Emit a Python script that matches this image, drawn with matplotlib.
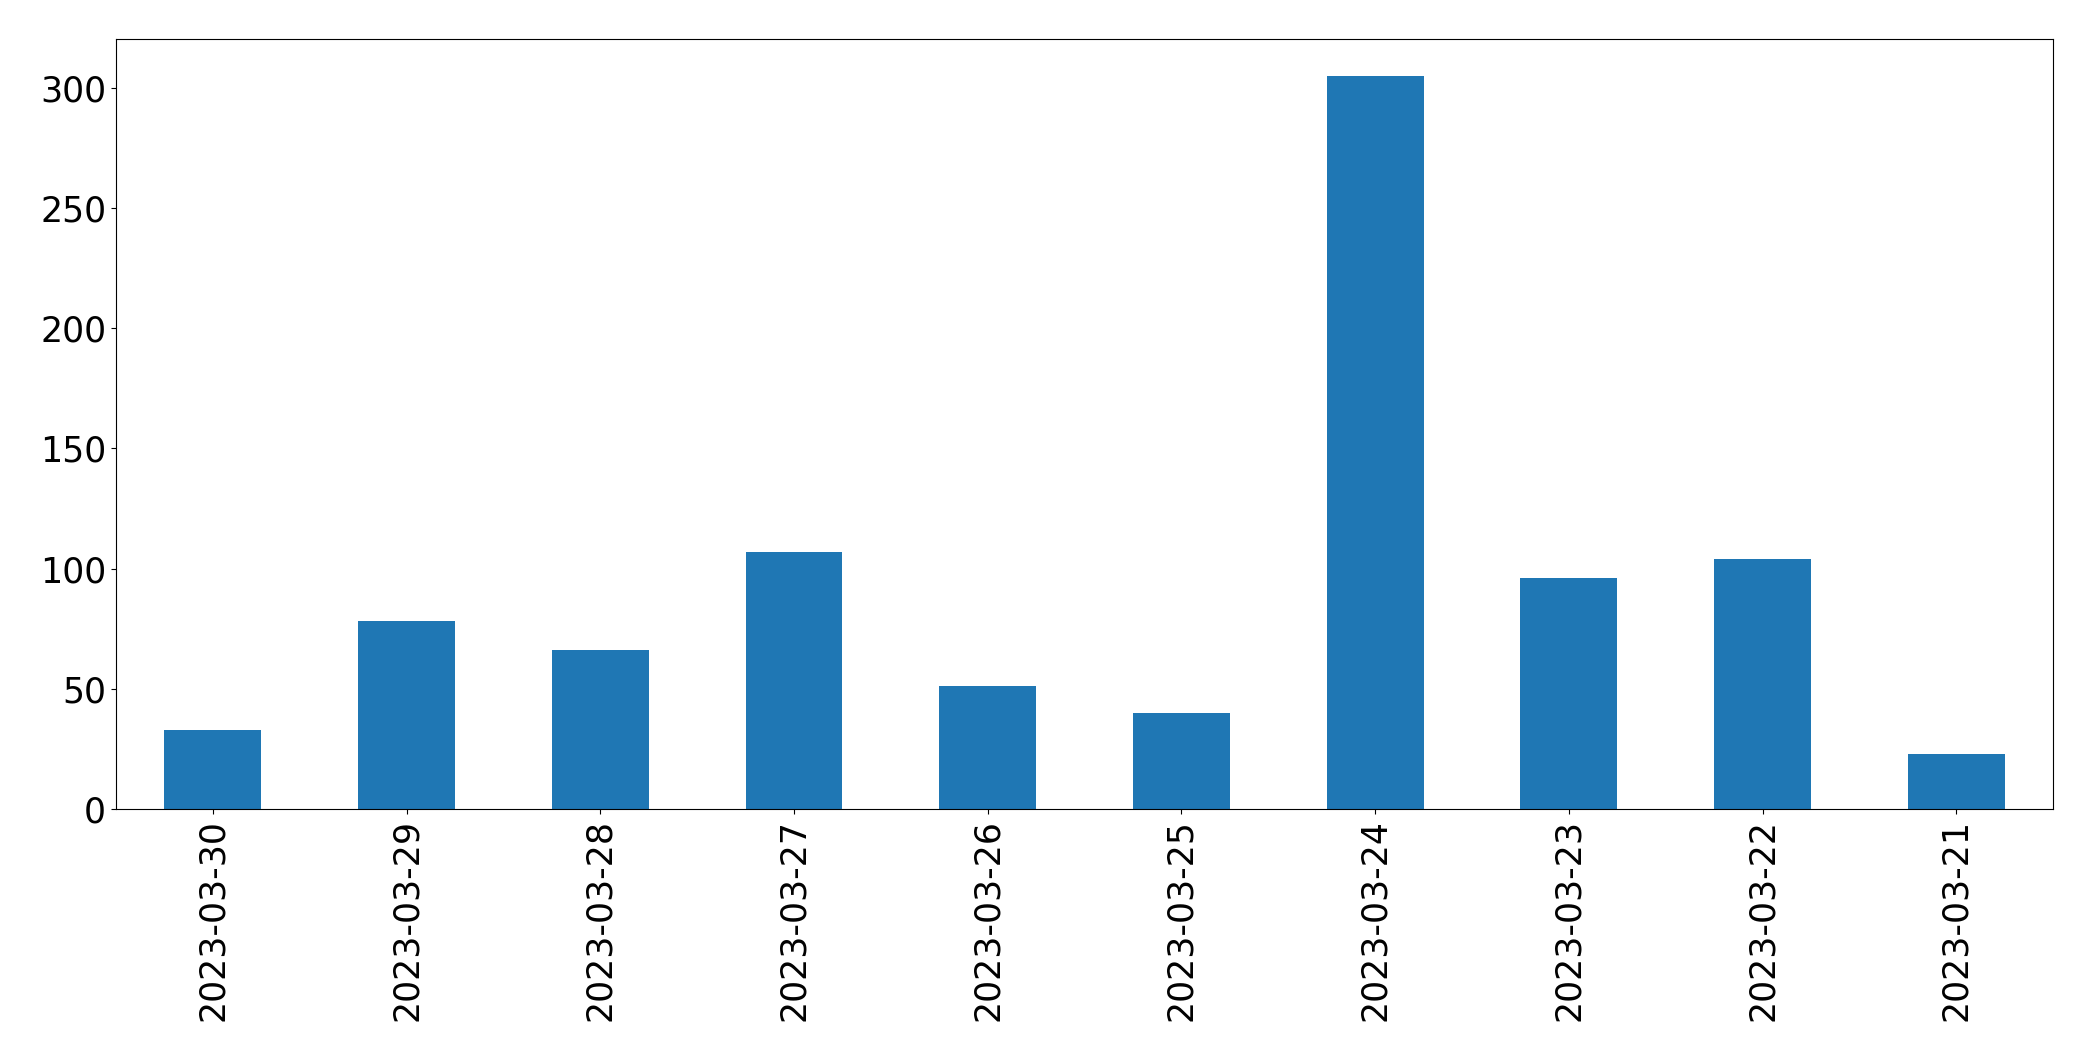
import pandas as pd
import matplotlib.pyplot as plt

dates = ['2023-03-30', '2023-03-29', '2023-03-28', '2023-03-27', '2023-03-26',
         '2023-03-25', '2023-03-24', '2023-03-23', '2023-03-22', '2023-03-21']
counts = [33, 78, 66, 107, 51, 40, 305, 96, 104, 23]

s = pd.Series(counts, index=dates)

fig, ax = plt.subplots(figsize=(20.93, 10.61), dpi=100)
s.plot.bar(ax=ax, color='#1f77b4')
ax.tick_params(axis='both', labelsize=25)
ax.set_xlabel('')

plt.subplots_adjust(left=0.0554, right=0.981, top=0.9632, bottom=0.2375)
fig.savefig('out.png', dpi=100)
